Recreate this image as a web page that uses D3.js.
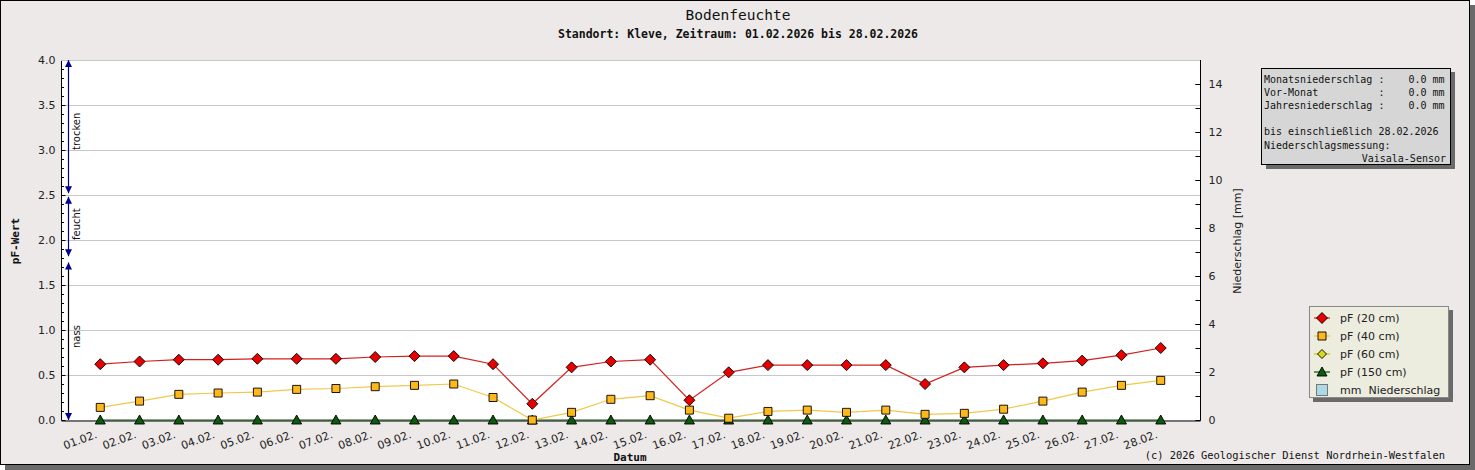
<!DOCTYPE html>
<html>
<head>
<meta charset="utf-8">
<script src="https://cdn.jsdelivr.net/npm/d3@7"></script>
<style>
  body { margin:0; background:#fff; }
  svg text { white-space: pre; }
</style>
</head>
<body>
<svg id="chart"></svg>
<script>
// Tageswerte Februar 2026
var dates = ["01.02.","02.02.","03.02.","04.02.","05.02.","06.02.","07.02.","08.02.","09.02.","10.02.",
             "11.02.","12.02.","13.02.","14.02.","15.02.","16.02.","17.02.","18.02.","19.02.","20.02.",
             "21.02.","22.02.","23.02.","24.02.","25.02.","26.02.","27.02.","28.02."];
var pf20 = [0.62,0.65,0.67,0.67,0.68,0.68,0.68,0.70,0.71,0.71,
            0.62,0.18,0.585,0.65,0.67,0.22,0.53,0.61,0.61,0.61,
            0.61,0.40,0.585,0.61,0.63,0.66,0.72,0.80];
var pf40 = [0.14,0.21,0.285,0.30,0.31,0.34,0.35,0.37,0.385,0.40,
            0.25,0.0,0.085,0.23,0.27,0.11,0.02,0.095,0.11,0.085,
            0.11,0.063,0.074,0.12,0.21,0.31,0.385,0.44];
var pf60 = [];
var pf150 = [0,0,0,0,0,0,0,0,0,0, 0,0,0,0,0,0,0,0,0,0, 0,0,0,0,0,0,0,0];
var niederschlag = [0,0,0,0,0,0,0,0,0,0, 0,0,0,0,0,0,0,0,0,0, 0,0,0,0,0,0,0,0];

var leftTicks = [0, 0.5, 1.0, 1.5, 2.0, 2.5, 3.0, 3.5, 4.0];
var rightTicks = [0, 2, 4, 6, 8, 10, 12, 14];

// Bereiche der pF-Skala
var zones = [
    {name:"nass", lo:0.0, hi:1.75, label:0.8, color:"#000"},
    {name:"feucht", lo:1.82, hi:2.48, label:2.0, color:"#000080"},
    {name:"trocken", lo:2.52, hi:4.0, label:3.0, color:"#000080"}
];

var infoLines = [
    "Monatsniederschlag :    0.0 mm",
    "Vor-Monat          :    0.0 mm",
    "Jahresniederschlag :    0.0 mm",
    "",
    "bis einschließlich 28.02.2026",
    "Niederschlagsmessung:"
];

var series = [
    {name:"pF (20 cm)", values:pf20, line:"#d42020", fill:"#e80000", shape:"diamond"},
    {name:"pF (40 cm)", values:pf40, line:"#f2c84a", fill:"#ffb81c", shape:"square"},
    {name:"pF (60 cm)", values:pf60, line:"#c8c800", fill:"#d8d820", shape:"diamond"},
    {name:"pF (150 cm)", values:pf150, line:"#0a500a", fill:"#0c5a0c", shape:"triangle"}
];

var screen = {width:1475, height:470};
var margins = {top:60, bottom:50, left:61, right:275};
var graph = {
    width:1200 - margins.left,
    height:420 - margins.top
};

var svg = d3.select("#chart")
    .attr("width", screen.width)
    .attr("height", screen.height);

var mono = "'DejaVu Sans Mono', monospace";
var sans = "'DejaVu Sans', sans-serif";

// frame with shadow
svg.append("rect").attr("x", 5).attr("y", 5).attr("width", 1470).attr("height", 465).attr("fill", "#6a6a6a");
svg.append("rect").attr("x", 0.5).attr("y", 0.5).attr("width", 1469).attr("height", 464)
    .attr("fill", "#ece9e8").attr("stroke", "#000");

var xScale = d3.scaleLinear().domain([0, dates.length + 1]).range([margins.left, 1200]);
var yScale = d3.scaleLinear().domain([0, 4]).range([420, margins.top]);
var y2Scale = d3.scaleLinear().domain([0, 15]).range([420, margins.top]);

// plot area
svg.append("rect")
    .attr("x", margins.left).attr("y", margins.top)
    .attr("width", graph.width).attr("height", graph.height)
    .attr("fill", "#fff");

svg.append("g").selectAll("line")
    .data(leftTicks.slice(1))
    .enter().append("line")
    .attr("x1", margins.left).attr("x2", 1200)
    .attr("y1", function(d) { return Math.round(yScale(d)) + 0.5; })
    .attr("y2", function(d) { return Math.round(yScale(d)) + 0.5; })
    .attr("stroke", "#c8c8c8");

// Niederschlag bars (all zero this month)
svg.append("g").selectAll("rect")
    .data(niederschlag)
    .enter().append("rect")
    .attr("x", function(d, i) { return xScale(i + 1) - 12; })
    .attr("width", 24)
    .attr("y", function(d) { return y2Scale(d); })
    .attr("height", function(d) { return 420 - y2Scale(d); })
    .attr("fill", "#add8e6");

// axes
var yAxis = d3.axisLeft(yScale).tickValues(leftTicks).tickSize(-4).tickPadding(6)
    .tickFormat(d3.format(".1f"));
var yMinor = d3.axisLeft(yScale).ticks(40).tickSize(-2.5).tickFormat("");
var y2Axis = d3.axisRight(y2Scale).tickValues(rightTicks).tickSize(-5).tickPadding(8);
var y2Minor = d3.axisRight(y2Scale).ticks(15).tickSize(-5).tickFormat("");

var axes = svg.append("g");
axes.append("g").attr("transform", "translate(" + (margins.left + 0.5) + ",0)").call(yMinor);
axes.append("g").attr("transform", "translate(" + (margins.left + 0.5) + ",0)").call(yAxis);
axes.append("g").attr("transform", "translate(1200.5,0)").call(y2Minor);
axes.append("g").attr("transform", "translate(1200.5,0)").call(y2Axis);
axes.selectAll(".domain").attr("stroke", "#000");
axes.selectAll("path.domain").attr("d", function() {
    return "M0," + margins.top + "V420";
});
axes.selectAll("text").attr("font-family", sans).attr("font-size", 11).attr("fill", "#222");

var xAxis = d3.axisBottom(xScale)
    .tickValues(d3.range(1, dates.length + 1))
    .tickSize(0)
    .tickFormat(function(d) { return dates[d - 1]; });
var xg = svg.append("g").attr("transform", "translate(0,420.5)").call(xAxis);
xg.select(".domain").attr("stroke", "#000");
xg.selectAll("text")
    .attr("font-family", sans).attr("font-size", 11).attr("fill", "#222")
    .attr("text-anchor", "end")
    .attr("y", 0).attr("dy", 0)
    .attr("transform", "translate(-3,17) rotate(-20)");

// top border of plot
svg.append("line").attr("x1", margins.left).attr("x2", 1200).attr("y1", 60.5).attr("y2", 60.5).attr("stroke", "#c8c8c8");

// zone arrows
var zg = svg.append("g");
var ax = 68.5;
zones.forEach(function(z) {
    var top = yScale(z.hi), bot = yScale(z.lo);
    zg.append("line").attr("x1", ax).attr("x2", ax).attr("y1", top).attr("y2", bot)
        .attr("stroke", z.color).attr("stroke-width", 1.2);
    zg.append("path").attr("d", "M" + ax + "," + top + "l-3.5,7h7z").attr("fill", "#000090");
    zg.append("path").attr("d", "M" + ax + "," + bot + "l-3.5,-7h7z").attr("fill", "#000090");
    zg.append("text")
        .attr("transform", "translate(" + (ax + 11) + "," + yScale(z.label) + ") rotate(-90)")
        .attr("font-family", sans).attr("font-size", 10).attr("fill", "#111")
        .text(z.name);
});

// markers
var symbolPath = function(shape, size) {
    if (shape == "diamond") return "M0,-" + size + "L" + size + ",0L0," + size + "L-" + size + ",0Z";
    if (shape == "square") return "M-4,-4H4V4H-4Z";
    return "M0,-5L5,4H-5Z";
};

var line = d3.line()
    .x(function(d, i) { return xScale(i + 1); })
    .y(function(d) { return yScale(d); });

series.slice().reverse().forEach(function(s) {
    var g = svg.append("g");
    g.append("path").datum(s.values)
        .attr("d", line)
        .attr("fill", "none")
        .attr("stroke", s.line)
        .attr("stroke-width", 1.2);
    g.selectAll("path.pt")
        .data(s.values)
        .enter().append("path")
        .classed("pt", true)
        .attr("transform", function(d, i) { return "translate(" + xScale(i + 1) + "," + yScale(d) + ")"; })
        .attr("d", symbolPath(s.shape, 5.5))
        .attr("fill", s.fill)
        .attr("stroke", "#000")
        .attr("stroke-width", 0.9);
});

// titles
var labels = svg.append("g");
labels.append("text")
    .text("Bodenfeuchte")
    .attr("x", 738).attr("y", 20)
    .attr("text-anchor", "middle")
    .attr("font-family", mono).attr("font-size", 14.5).attr("fill", "#111");
labels.append("text")
    .text("Standort: Kleve, Zeitraum: 01.02.2026 bis 28.02.2026")
    .attr("x", 738).attr("y", 38)
    .attr("text-anchor", "middle")
    .attr("font-family", mono).attr("font-size", 11.5).attr("font-weight", "bold").attr("fill", "#111");
labels.append("text")
    .text("Datum")
    .attr("x", 630).attr("y", 461)
    .attr("text-anchor", "middle")
    .attr("font-family", mono).attr("font-size", 11).attr("font-weight", "bold").attr("fill", "#111");
labels.append("text")
    .text("pF-Wert")
    .attr("transform", "translate(19,241) rotate(-90)")
    .attr("text-anchor", "middle")
    .attr("font-family", mono).attr("font-size", 11).attr("font-weight", "bold").attr("fill", "#111");
labels.append("text")
    .text("Niederschlag [mm]")
    .attr("transform", "translate(1241,241) rotate(-90)")
    .attr("text-anchor", "middle")
    .attr("font-family", sans).attr("font-size", 11).attr("fill", "#222");
labels.append("text")
    .text("(c) 2026 Geologischer Dienst Nordrhein-Westfalen")
    .attr("x", 1445).attr("y", 459)
    .attr("text-anchor", "end")
    .attr("font-family", mono).attr("font-size", 10.4).attr("fill", "#111");

// info box
var info = svg.append("g");
info.append("rect").attr("x", 1266).attr("y", 72).attr("width", 189).attr("height", 97).attr("fill", "#6a6a6a");
info.append("rect").attr("x", 1261.5).attr("y", 68.5).attr("width", 189).attr("height", 96)
    .attr("fill", "#d6d6d6").attr("stroke", "#000");
info.selectAll("text.l")
    .data(infoLines)
    .enter().append("text")
    .attr("x", 1264)
    .attr("y", function(d, i) { return 83 + i * 13.1; })
    .attr("font-family", mono).attr("font-size", 10).attr("fill", "#111")
    .text(function(d) { return d; });
info.append("text")
    .text("Vaisala-Sensor")
    .attr("x", 1446).attr("y", 161.5)
    .attr("text-anchor", "end")
    .attr("font-family", mono).attr("font-size", 10).attr("fill", "#111");

// legend
var legend = svg.append("g");
legend.append("rect").attr("x", 1313).attr("y", 310).attr("width", 140).attr("height", 92).attr("fill", "#6a6a6a");
legend.append("rect").attr("x", 1309.5).attr("y", 306.5).attr("width", 139).attr("height", 91)
    .attr("fill", "#ececdf").attr("stroke", "#888");
var items = legend.selectAll("g.item")
    .data(series)
    .enter().append("g")
    .attr("transform", function(d, i) { return "translate(1322," + (318 + i * 18) + ")"; });
items.append("line").attr("x1", -8).attr("x2", 8).attr("stroke", function(d) { return d.line; }).attr("stroke-width", 1.2);
items.append("path")
    .attr("d", function(d) { return symbolPath(d.shape, d.shape == "diamond" && d.name == "pF (60 cm)" ? 4.5 : 5.5); })
    .attr("fill", function(d) { return d.fill; })
    .attr("stroke", "#000").attr("stroke-width", 0.9);
items.append("text")
    .attr("x", 18).attr("y", 4)
    .attr("font-family", sans).attr("font-size", 11).attr("fill", "#222")
    .text(function(d) { return d.name; });
var rain = legend.append("g").attr("transform", "translate(1322," + (318 + 4 * 18) + ")");
rain.append("rect").attr("x", -5.5).attr("y", -5.5).attr("width", 11).attr("height", 11)
    .attr("fill", "#add8e6").attr("stroke", "#777");
rain.append("text").attr("x", 18).attr("y", 4)
    .attr("font-family", sans).attr("font-size", 11).attr("fill", "#222")
    .text("mm  Niederschlag");
</script>
</body>
</html>
